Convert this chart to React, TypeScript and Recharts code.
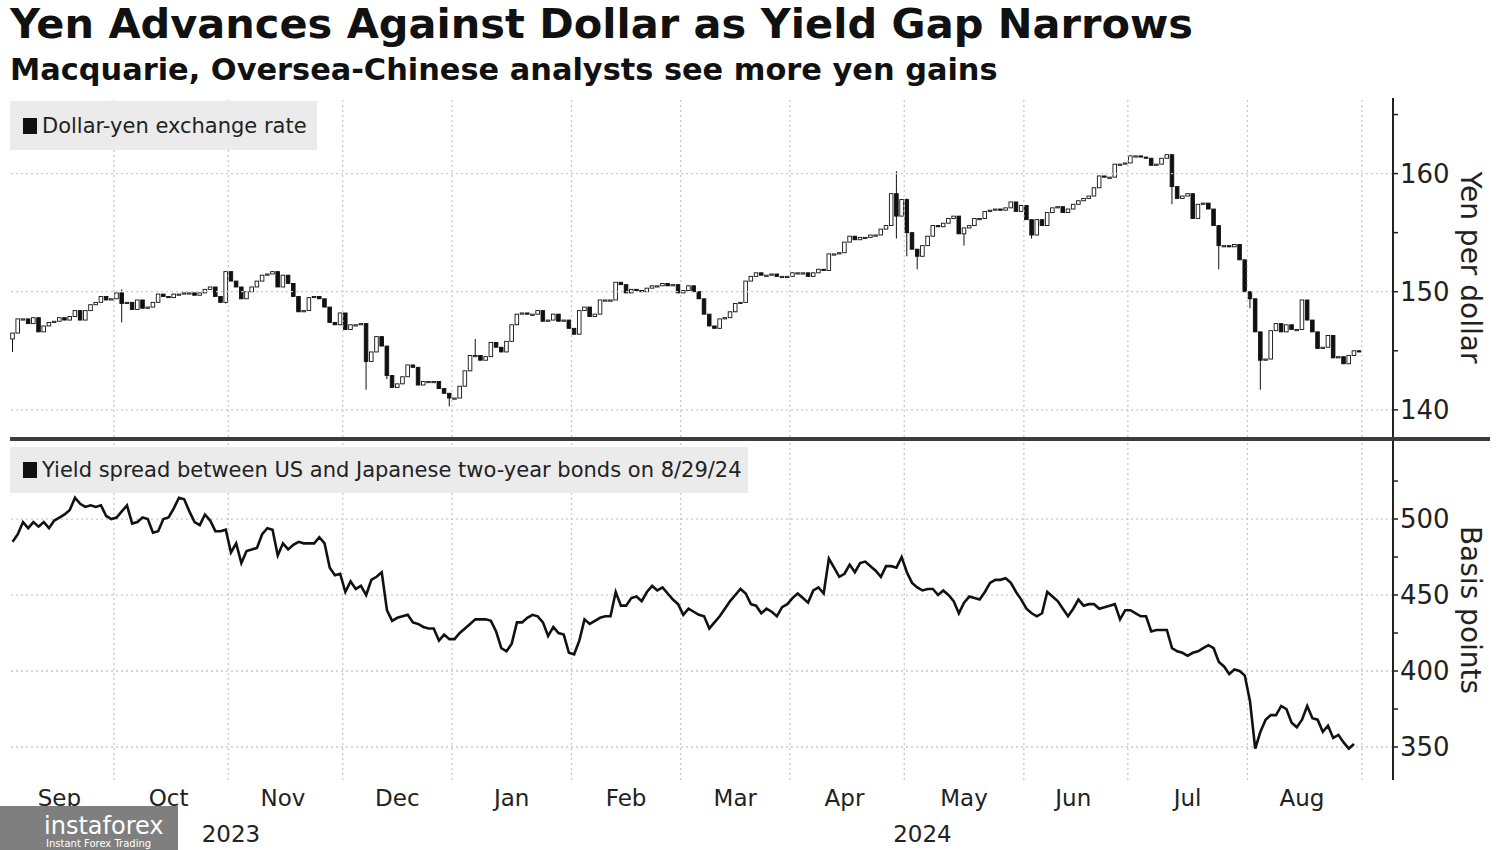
import React from 'react';
import { ComposedChart, Bar, Line, XAxis, YAxis, ReferenceLine } from 'recharts';

const FONT = '"DejaVu Sans", Verdana, sans-serif';

const months = ['Sep', 'Oct', 'Nov', 'Dec', 'Jan', 'Feb', 'Mar', 'Apr', 'May', 'Jun', 'Jul', 'Aug'];
const years = ['2023', '2024'];

const yenTicks = [140, 145, 150, 155, 160, 165];
const yenGrid = [140, 150, 160];
const bpTicks = [350, 375, 400, 425, 450, 475, 500, 525];
const bpGrid = [350, 400, 450, 500];

// dollar-yen daily closes, Sep 4 2023 - Aug 30 2024, one row per month
const usdJpyClose = [
    146.5, 147.7, 147.7, 147.3, 147.8, 146.6, 147.1, 147.4, 147.5, 147.8, 147.6, 147.9, 148.4, 147.6, 148.4, 148.9, 149.1, 149.6, 149.3, 149.4,
    149.9, 149.0, 149.1, 148.5, 149.3, 148.6, 148.7, 149.1, 149.8, 149.6, 149.5, 149.8, 149.8, 149.9, 149.9, 149.7, 149.9, 150.2, 150.4, 149.6, 149.1, 151.7,
    150.9, 150.4, 149.4, 150.0, 150.4, 150.9, 151.4, 151.5, 151.7, 150.4, 151.4, 150.7, 149.6, 148.3, 148.4, 149.5, 149.6, 149.4, 148.7, 147.4, 147.2, 148.2,
    146.8, 147.2, 147.2, 147.3, 144.1, 144.9, 146.2, 145.4, 142.9, 141.9, 142.2, 142.8, 143.8, 143.6, 142.1, 142.4, 142.4, 142.4, 141.8, 141.4, 141.0,
    141.0, 142.0, 143.3, 144.6, 144.6, 144.2, 144.5, 145.7, 145.3, 144.9, 145.8, 147.2, 148.1, 148.2, 148.1, 148.1, 148.4, 147.5, 147.6, 148.1, 147.5, 147.6, 146.9,
    146.4, 148.4, 148.7, 147.9, 148.1, 149.3, 149.3, 149.3, 150.8, 150.6, 149.9, 150.2, 150.1, 150.0, 150.3, 150.5, 150.5, 150.7, 150.5, 150.6, 149.9,
    150.1, 150.5, 150.0, 149.4, 148.1, 147.1, 146.9, 147.7, 147.8, 148.3, 149.0, 149.1, 150.9, 151.3, 151.6, 151.4, 151.4, 151.5, 151.3, 151.3, 151.3,
    151.6, 151.6, 151.6, 151.3, 151.6, 151.9, 151.8, 153.2, 153.2, 153.3, 154.2, 154.7, 154.4, 154.6, 154.6, 154.8, 154.8, 155.3, 155.6, 158.3, 156.4, 157.8,
    155.0, 153.6, 153.0, 153.9, 154.7, 155.6, 155.5, 155.8, 156.2, 156.4, 154.9, 155.4, 155.6, 156.2, 156.2, 156.8, 156.9, 157.0, 156.9, 157.1, 157.6, 156.8, 157.3,
    156.1, 154.8, 156.1, 155.6, 156.7, 157.1, 157.2, 156.7, 157.0, 157.4, 157.7, 157.9, 158.1, 158.8, 159.8, 159.7, 159.7, 160.8, 160.8, 160.9,
    161.5, 161.5, 161.4, 161.3, 160.7, 160.8, 161.3, 161.6, 158.9, 157.9, 158.1, 158.3, 156.2, 157.4, 157.5, 157.0, 155.6, 153.9, 153.9, 153.8, 154.0, 152.7, 150.0,
    149.4, 146.6, 144.2, 144.3, 146.7, 147.3, 146.6, 147.2, 146.8, 146.8, 149.3, 147.6, 146.6, 145.2, 145.3, 146.3, 144.4, 144.5, 143.9, 144.6, 145.0, 144.9,
];
const usdJpyFirstOpen = 146.0;

// the longer shadows that stand out in the picture (day index, high, low)
const usdJpyWicks = [
    { i: 0, low: 144.9 },
    { i: 21, high: 150.2, low: 147.4 },
    { i: 41, low: 149.0 },
    { i: 68, low: 141.7 },
    { i: 72, low: 142.6 },
    { i: 84, low: 140.3 },
    { i: 89, high: 146.0 },
    { i: 170, high: 160.2, low: 154.5 },
    { i: 172, high: 157.9, low: 153.0 },
    { i: 174, low: 151.9 },
    { i: 183, low: 153.9 },
    { i: 196, low: 154.5 },
    { i: 223, low: 157.4 },
    { i: 232, low: 151.9 },
    { i: 238, low: 148.6 },
    { i: 240, low: 141.7 },
];

// US minus Japan 2y yield spread, basis points, Sep 4 2023 - Aug 29 2024
const spreadBp = [
    485, 490, 498, 494, 498, 495, 498, 494, 499, 501, 503, 506, 514, 510, 508, 509, 508, 509, 502, 500,
    501, 505, 509, 497, 498, 501, 500, 491, 492, 500, 501, 507, 514, 513, 505, 498, 496, 503, 499, 492, 492, 493,
    478, 484, 471, 479, 480, 481, 490, 494, 493, 476, 484, 480, 483, 485, 484, 484, 484, 488, 484, 468, 463, 464,
    452, 459, 454, 456, 450, 460, 462, 465, 440, 433, 435, 436, 437, 432, 431, 429, 428, 428, 420, 424, 421,
    421, 425, 428, 431, 434, 434, 434, 433, 426, 415, 413, 418, 432, 432, 435, 437, 436, 432, 423, 429, 425, 424, 412,
    411, 420, 434, 431, 433, 435, 436, 436, 452, 443, 443, 448, 449, 446, 452, 456, 453, 455, 451, 447, 444,
    437, 441, 439, 437, 436, 428, 432, 436, 441, 446, 450, 454, 451, 444, 443, 438, 441, 439, 436, 442, 444,
    448, 451, 448, 445, 453, 455, 451, 474, 468, 462, 464, 470, 465, 471, 472, 469, 466, 462, 469, 469, 468, 475,
    465, 458, 455, 453, 454, 454, 450, 453, 450, 446, 438, 445, 449, 448, 447, 452, 458, 460, 460, 461, 458, 452, 447,
    441, 438, 436, 438, 452, 449, 446, 441, 436, 441, 447, 443, 444, 444, 441, 442, 443, 444, 434, 440,
    440, 438, 436, 436, 426, 427, 427, 427, 415, 413, 412, 410, 412, 413, 415, 417, 415, 406, 403, 398, 401, 400, 397,
    380, 349, 360, 368, 371, 371, 377, 375, 366, 363, 368, 377, 369, 368, 360, 364, 356, 358, 353, 349, 352,
];

// weekdays on the time axis (axis runs a few days past the last value)
const days: string[] = [];
for (let t = Date.UTC(2023, 8, 4); days.length < 266; t += 86400000) {
    const wd = new Date(t).getUTCDay();
    if (wd !== 0 && wd !== 6) days.push(new Date(t).toISOString().slice(0, 10));
}

const rows = days.map((d, i) => {
    const close = usdJpyClose[i];
    const spread = spreadBp[i] ?? null;
    if (close == null) return { d, range: null, open: null, close: null, spread };
    const open = i === 0 ? usdJpyFirstOpen : usdJpyClose[i - 1];
    const w = usdJpyWicks.find((x) => x.i === i);
    const high = Math.max(open, close, w?.high ?? -Infinity);
    const low = Math.min(open, close, w?.low ?? Infinity);
    return { d, range: [low, high], open, close, spread };
});

const monthStarts = days.filter((d, i) => i > 0 && d.slice(0, 7) !== days[i - 1].slice(0, 7));

const monthKeys = Array.from(new Set(days.map((d) => d.slice(0, 7))));
const monthTicks: string[] = [];
const tickLabel: Record<string, string> = {};
monthKeys.slice(0, months.length).forEach((k, m) => {
    const idx = days.map((d, i) => (d.startsWith(k) ? i : -1)).filter((i) => i >= 0);
    const mid = days[Math.floor((idx[0] + idx[idx.length - 1]) / 2)];
    monthTicks.push(mid);
    tickLabel[mid] = months[m];
});
const yearTicks: string[] = [];
years.forEach((y) => {
    const idx = days.map((d, i) => (d.startsWith(y) ? i : -1)).filter((i) => i >= 0);
    const mid = days[Math.round((idx[0] + idx[idx.length - 1]) / 2)];
    yearTicks.push(mid);
    tickLabel[mid] = y;
});

const gridStroke = '#c9c9c9';

function Candle(props: any) {
    const { x, y, width, height, payload } = props;
    if (!payload || payload.range == null) return null;
    const [lo, hi] = payload.range;
    const top = Math.min(y, y + height);
    const h = Math.abs(height);
    const per = hi > lo ? h / (hi - lo) : 0;
    const yOf = (v: number) => top + (hi - v) * per;
    const cx = x + width / 2;
    const up = payload.close >= payload.open;
    const bTop = yOf(Math.max(payload.open, payload.close));
    const bBot = yOf(Math.min(payload.open, payload.close));
    const bw = 3.6;
    return (
        <g>
            <line x1={cx} x2={cx} y1={top} y2={top + h} stroke="#111" strokeWidth={1} />
            <rect
                x={cx - bw / 2}
                y={bTop}
                width={bw}
                height={Math.max(bBot - bTop, 1.2)}
                fill={up ? '#fff' : '#111'}
                stroke="#111"
                strokeWidth={0.9}
            />
        </g>
    );
}

function ValueTick(props: any) {
    const { x, y, payload, labels } = props;
    if (!labels.includes(payload.value)) return <g />;
    return (
        <text x={x} y={y} dy="0.36em" fontSize={26} fill="#222" fontFamily={FONT} textAnchor="start">
            {payload.value}
        </text>
    );
}

function AxisTitle(props: any) {
    const { viewBox, text } = props;
    if (!viewBox) return null;
    const cx = viewBox.x + viewBox.width - 30;
    const cy = viewBox.y + viewBox.height / 2;
    return (
        <text
            x={cx}
            y={cy}
            transform={`rotate(90 ${cx} ${cy})`}
            textAnchor="middle"
            dominantBaseline="central"
            fontSize={28}
            fill="#222"
            fontFamily={FONT}
        >
            {text}
        </text>
    );
}

function DateTick(props: any) {
    const { x, y, payload, size } = props;
    return (
        <text x={x} y={y} dy="0.8em" textAnchor="middle" fontSize={size} fill="#222" fontFamily={FONT}>
            {tickLabel[payload.value]}
        </text>
    );
}

const legendBox: React.CSSProperties = {
    position: 'absolute',
    left: 10,
    background: '#ebebeb',
    display: 'flex',
    alignItems: 'center',
    paddingLeft: 13,
    boxSizing: 'border-box',
    fontFamily: FONT,
    fontSize: 21,
    color: '#222',
};
const legendSwatch: React.CSSProperties = { width: 14, height: 16, background: '#111', marginRight: 5 };

export default function App() {
    return (
        <div style={{ position: 'absolute', left: 0, top: 0, width: 1500, height: 850, background: '#fff', overflow: 'hidden' }}>
            <div style={{ position: 'absolute', left: 10, top: 0, fontFamily: FONT, fontWeight: 'bold', fontSize: 41.5, lineHeight: '47px', color: '#111', whiteSpace: 'nowrap' }}>
                Yen Advances Against Dollar as Yield Gap Narrows
            </div>
            <div style={{ position: 'absolute', left: 10, top: 51, fontFamily: FONT, fontWeight: 'bold', fontSize: 30.4, lineHeight: '37px', color: '#111', whiteSpace: 'nowrap' }}>
                Macquarie, Oversea-Chinese analysts see more yen gains
            </div>

            <div style={{ position: 'absolute', left: 0, top: 98 }}>
                <ComposedChart width={1500} height={339} data={rows} margin={{ top: 0, right: 0, bottom: 0, left: 10 }}>
                    <XAxis dataKey="d" scale="band" hide />
                    <YAxis
                        orientation="right"
                        width={107}
                        domain={[137.7, 166.4]}
                        allowDataOverflow
                        ticks={yenTicks}
                        interval={0}
                        axisLine={{ stroke: '#222', strokeWidth: 2 }}
                        tickLine={{ stroke: '#222', strokeWidth: 1.5 }}
                        tickSize={5}
                        tickMargin={2}
                        tick={<ValueTick labels={yenGrid} />}
                        label={<AxisTitle text="Yen per dollar" />}
                    />
                    {yenGrid.map((v) => (
                        <ReferenceLine key={v} y={v} stroke={gridStroke} strokeWidth={1.3} strokeDasharray="2 3" />
                    ))}
                    {monthStarts.map((d) => (
                        <ReferenceLine key={d} x={d} position="start" stroke={gridStroke} strokeWidth={1.3} strokeDasharray="2 3" />
                    ))}
                    <Bar dataKey="range" shape={<Candle />} isAnimationActive={false} />
                </ComposedChart>
            </div>

            <div style={{ position: 'absolute', left: 0, top: 440 }}>
                <ComposedChart width={1500} height={410} data={rows} margin={{ top: 0, right: 0, bottom: 0, left: 10 }}>
                    <XAxis
                        dataKey="d"
                        scale="band"
                        ticks={monthTicks}
                        interval={0}
                        axisLine={false}
                        tickLine={false}
                        height={36}
                        tick={<DateTick size={23} />}
                    />
                    <XAxis
                        xAxisId="year"
                        dataKey="d"
                        scale="band"
                        ticks={yearTicks}
                        interval={0}
                        axisLine={false}
                        tickLine={false}
                        height={34}
                        tick={<DateTick size={23} />}
                    />
                    <YAxis
                        orientation="right"
                        width={107}
                        domain={[328.3, 552]}
                        allowDataOverflow
                        ticks={bpTicks}
                        interval={0}
                        axisLine={{ stroke: '#222', strokeWidth: 2 }}
                        tickLine={{ stroke: '#222', strokeWidth: 1.5 }}
                        tickSize={5}
                        tickMargin={2}
                        tick={<ValueTick labels={bpGrid} />}
                        label={<AxisTitle text="Basis points" />}
                    />
                    {bpGrid.map((v) => (
                        <ReferenceLine key={v} y={v} stroke={gridStroke} strokeWidth={1.3} strokeDasharray="2 3" />
                    ))}
                    {monthStarts.map((d) => (
                        <ReferenceLine key={d} x={d} position="start" stroke={gridStroke} strokeWidth={1.3} strokeDasharray="2 3" />
                    ))}
                    <Line
                        dataKey="spread"
                        type="linear"
                        stroke="#111"
                        strokeWidth={2.6}
                        dot={false}
                        activeDot={false}
                        isAnimationActive={false}
                    />
                </ComposedChart>
            </div>

            <div style={{ position: 'absolute', left: 10, top: 437, width: 1480, height: 4, background: '#3c3c3c' }} />

            <div style={{ ...legendBox, top: 101, width: 307, height: 49 }}>
                <div style={legendSwatch} />
                Dollar-yen exchange rate
            </div>
            <div style={{ ...legendBox, top: 447, width: 738, height: 46 }}>
                <div style={legendSwatch} />
                Yield spread between US and Japanese two-year bonds on 8/29/24
            </div>

            <div style={{ position: 'absolute', left: 0, top: 806, width: 178, height: 44, background: '#7f7f7f', color: '#fff', fontFamily: FONT }}>
                <div style={{ position: 'absolute', left: 44, top: 8, fontSize: 24, lineHeight: '24px' }}>instaforex</div>
                <div style={{ position: 'absolute', left: 46, top: 32, fontSize: 10, lineHeight: '11px' }}>Instant Forex Trading</div>
            </div>
        </div>
    );
}
